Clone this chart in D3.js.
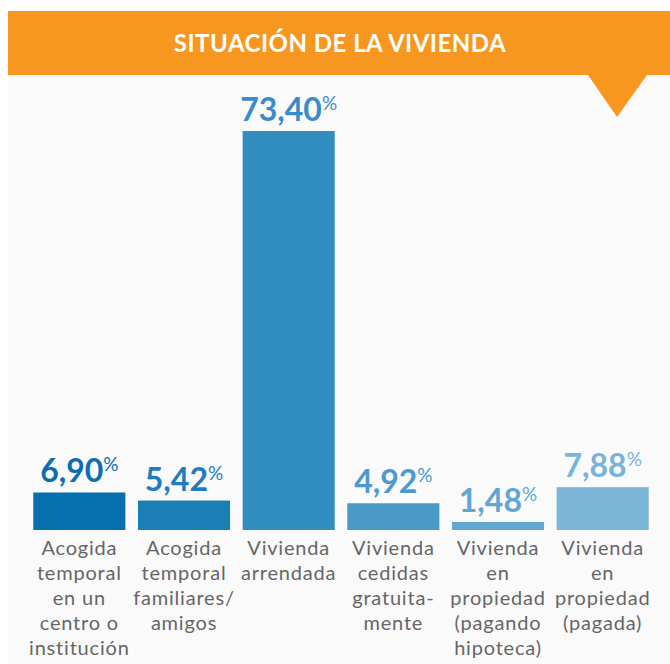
<!DOCTYPE html>
<html>
<head>
<meta charset="utf-8">
<script src="https://cdn.jsdelivr.net/npm/d3@7"></script>
<style>
  body { margin: 0; background: #fff; }
  svg { display: block; }
</style>
</head>
<body>
<svg id="chart" width="670" height="664"></svg>
<script>
// data
const categories = [
  ["Acogida", "temporal", "en un", "centro o", "institución"],
  ["Acogida", "temporal", "familiares/", "amigos"],
  ["Vivienda", "arrendada"],
  ["Vivienda", "cedidas", "gratuita-", "mente"],
  ["Vivienda", "en", "propiedad", "(pagando", "hipoteca)"],
  ["Vivienda", "en", "propiedad", "(pagada)"]
];
const values = [6.90, 5.42, 73.40, 4.92, 1.48, 7.88];
const valueLabels = ["6,90", "5,42", "73,40", "4,92", "1,48", "7,88"];
const barColors = ["#0570ad", "#1b7fb7", "#328dc1", "#4a9ac8", "#62a8d0", "#7cb5d7"];
const labelColors = ["#0d6db3", "#1f7cc1", "#3a8bca", "#4a99cf", "#5fa6d6", "#78b3dc"];
const title = "SITUACIÓN DE LA VIVIENDA";

const svg = d3.select("#chart");
const W = 670, H = 664;
const baseline = 530;

// panel background
svg.append("rect").attr("x", 8).attr("y", 11).attr("width", W - 8).attr("height", H - 11)
  .attr("fill", "#fafafa");

// orange header + pointer
svg.append("rect").attr("x", 8).attr("y", 11).attr("width", W - 8).attr("height", 64)
  .attr("fill", "#f7971f");
svg.append("path").attr("d", "M588,75L647,75L617,117Z").attr("fill", "#f7971f");
svg.append("text")
  .attr("x", 340).attr("y", 52)
  .attr("text-anchor", "middle")
  .attr("fill", "#fff")
  .style("font-family", "Lato, 'Open Sans', sans-serif")
  .style("font-weight", "bold")
  .style("font-size", "24px")
  .style("letter-spacing", "0.5px")
  .text(title);

const x = d3.scaleBand()
  .domain(d3.range(values.length))
  .range([27, 655])
  .paddingInner(0.12)
  .paddingOuter(0.06);

const y = d3.scaleLinear()
  .domain([0, 73.4])
  .range([baseline, 131]);

svg.append("g").selectAll("rect")
  .data(values)
  .join("rect")
  .attr("x", (d, i) => x(i))
  .attr("y", d => y(d))
  .attr("width", x.bandwidth())
  .attr("height", d => baseline - y(d))
  .attr("fill", (d, i) => barColors[i]);

// value labels with small superscript %
const vl = svg.append("g").selectAll("text")
  .data(values)
  .join("text")
  .attr("x", (d, i) => x(i) + x.bandwidth() / 2)
  .attr("y", d => y(d) - 10)
  .attr("text-anchor", "middle")
  .attr("fill", (d, i) => labelColors[i])
  .style("font-family", "Lato, 'Open Sans', sans-serif")
  .style("font-weight", "bold")
  .style("font-size", "32px");
vl.append("tspan").text((d, i) => valueLabels[i]);
vl.append("tspan")
  .attr("dy", -11)
  .style("font-size", "19px")
  .style("font-weight", "normal")
  .text("%");

// category labels
const cl = svg.append("g").selectAll("text")
  .data(categories)
  .join("text")
  .attr("x", (d, i) => x(i) + x.bandwidth() / 2)
  .attr("y", 555)
  .attr("text-anchor", "middle")
  .attr("fill", "#666")
  .style("font-family", "Lato, 'Open Sans', sans-serif")
  .style("font-size", "20px")
  .style("letter-spacing", "0.8px");
cl.selectAll("tspan")
  .data(d => d)
  .join("tspan")
  .attr("x", function () { return this.parentNode.getAttribute("x"); })
  .attr("dy", (d, i) => i === 0 ? 0 : 25)
  .text(d => d);
</script>
</body>
</html>
